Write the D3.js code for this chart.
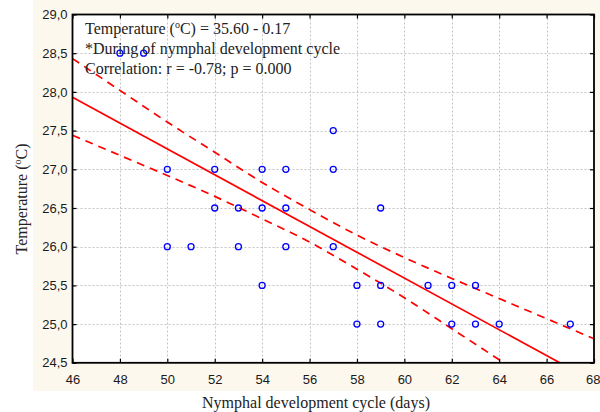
<!DOCTYPE html>
<html>
<head>
<meta charset="utf-8">
<script src="https://cdn.jsdelivr.net/npm/d3@7"></script>
<style>
  html, body { margin: 0; padding: 0; background: #ffffff; }
  svg { display: block; }
</style>
</head>
<body>
<svg id="chart" width="600" height="412"></svg>
<script>
// ---- data ----
const cycleDays = [48, 49, 50, 50, 51, 52, 52, 53, 53, 54, 54, 54, 55, 55, 55, 57, 57, 57, 58, 58, 59, 59, 59, 61, 62, 62, 63, 63, 64, 67];
const temperature = [28.5, 28.5, 27.0, 26.0, 26.0, 27.0, 26.5, 26.5, 26.0, 27.0, 26.5, 25.5, 27.0, 26.5, 26.0, 27.5, 27.0, 26.0, 25.5, 25.0, 26.5, 25.5, 25.0, 25.5, 25.5, 25.0, 25.5, 25.0, 25.0, 25.0];

// fitted line, read at the plot edges
const fitX = [46, 68];
const fitY = [27.93, 24.26];

// 95% confidence band
const bandX = [46, 48, 50, 52, 54, 56, 58, 60, 62, 64, 66, 68];
const bandUpper = [28.43, 28.02, 27.61, 27.22, 26.83, 26.48, 26.15, 25.86, 25.59, 25.33, 25.07, 24.81];
const bandLower = [27.44, 27.18, 26.92, 26.65, 26.36, 26.06, 25.71, 25.34, 24.94, 24.54, 24.13, 23.71];

const xTicks = [46, 48, 50, 52, 54, 56, 58, 60, 62, 64, 66, 68];
const yTicks = [24.5, 25.0, 25.5, 26.0, 26.5, 27.0, 27.5, 28.0, 28.5, 29.0];
const yTickLabels = ["24,5", "25,0", "25,5", "26,0", "26,5", "27,0", "27,5", "28,0", "28,5", "29,0"];

const xTitle = "Nymphal development cycle (days)";
const noteLines = ["= 35.60 - 0.17", "*During of nymphal development cycle", "Correlation: r = -0.78; p = 0.000"];

// ---- drawing ----
const svg = d3.select("#chart");
const L = 72.5, R = 594, T = 14.5, B = 362.8;
const x = d3.scaleLinear().domain([46, 68]).range([L, R]);
const y = d3.scaleLinear().domain([24.5, 29]).range([B, T]);

// cream panel
svg.append("rect").attr("x", 33).attr("y", 0).attr("width", 567).attr("height", 391).attr("fill", "#fdf8ee");
// plot area
svg.append("rect").attr("x", L).attr("y", T).attr("width", R - L).attr("height", B - T).attr("fill", "#ffffff");

svg.append("clipPath").attr("id", "plotclip")
  .append("rect").attr("x", L).attr("y", T).attr("width", R - L).attr("height", B - T);

// grid
const grid = svg.append("g").attr("stroke", "#c4c4c4").attr("stroke-width", 1).attr("stroke-dasharray", "2,2");
grid.selectAll("line.v").data(xTicks.slice(1, -1)).join("line")
  .attr("x1", d => Math.round(x(d)) + 0.5).attr("x2", d => Math.round(x(d)) + 0.5)
  .attr("y1", T).attr("y2", B);
grid.selectAll("line.h").data(yTicks.slice(1, -1)).join("line")
  .attr("y1", d => Math.round(y(d)) + 0.5).attr("y2", d => Math.round(y(d)) + 0.5)
  .attr("x1", L).attr("x2", R);

// lines
const lineG = svg.append("g").attr("clip-path", "url(#plotclip)").attr("fill", "none").attr("stroke", "#ff0000");
const fitLine = d3.line().x(d => x(d[0])).y(d => y(d[1]));
lineG.append("path").datum(fitX.map((d, i) => [d, fitY[i]]))
  .attr("d", fitLine).attr("stroke-width", 1.7);
const bandLine = d3.line().x(d => x(d[0])).y(d => y(d[1])).curve(d3.curveMonotoneX);
lineG.append("path").datum(bandX.map((d, i) => [d, bandUpper[i]]))
  .attr("d", bandLine).attr("stroke-width", 1.7).attr("stroke-dasharray", "8,6");
lineG.append("path").datum(bandX.map((d, i) => [d, bandLower[i]]))
  .attr("d", bandLine).attr("stroke-width", 1.7).attr("stroke-dasharray", "8,6");

// axes
const fontSans = "'Liberation Sans', Arial, sans-serif";
const fontSerif = "'Liberation Serif', 'Times New Roman', serif";

const xAxis = svg.append("g").attr("transform", `translate(0,${B})`)
  .call(d3.axisBottom(x).tickValues(xTicks).tickSize(-4).tickSizeOuter(0).tickPadding(12).tickFormat(d3.format("d")));
const yAxis = svg.append("g").attr("transform", `translate(${L},0)`)
  .call(d3.axisLeft(y).tickValues(yTicks).tickSize(-4).tickSizeOuter(0).tickPadding(5)
    .tickFormat((d, i) => yTickLabels[i]));
const xTop = svg.append("g").attr("transform", `translate(0,${T})`)
  .call(d3.axisTop(x).tickValues(xTicks).tickSize(-4).tickSizeOuter(0).tickFormat(""));
const yRight = svg.append("g").attr("transform", `translate(${R},0)`)
  .call(d3.axisRight(y).tickValues(yTicks).tickSize(-4).tickSizeOuter(0).tickFormat(""));

[xAxis, yAxis, xTop, yRight].forEach(g => {
  g.select(".domain").remove();
  g.selectAll(".tick line").attr("stroke", "#000").attr("stroke-width", 1.2);
  g.selectAll(".tick text").attr("fill", "#1a1a1a").style("font-family", fontSans).style("font-size", "13px");
});
// keep the last x label inside the page
xAxis.selectAll(".tick text").filter(d => d === 68).attr("text-anchor", "end").attr("x", 6);

// frame
svg.append("rect").attr("x", L).attr("y", T).attr("width", R - L).attr("height", B - T)
  .attr("fill", "none").attr("stroke", "#000").attr("stroke-width", 1.8);

// points
svg.append("g").selectAll("circle").data(cycleDays.map((d, i) => [d, temperature[i]])).join("circle")
  .attr("cx", d => x(d[0])).attr("cy", d => y(d[1])).attr("r", 3)
  .attr("fill", "none").attr("stroke", "#0000ff").attr("stroke-width", 1.3);

// annotation
const note = svg.append("g").style("font-family", fontSerif).style("font-size", "16px").attr("fill", "#222");
const t1 = note.append("text").attr("x", 85).attr("y", 34);
t1.append("tspan").text("Temperature (");
t1.append("tspan").attr("dy", -6).style("font-size", "10px").text("o");
t1.append("tspan").attr("dy", 6).text("C) " + noteLines[0]);
note.append("text").attr("x", 85).attr("y", 54).text(noteLines[1]);
note.append("text").attr("x", 85).attr("y", 73.5).text(noteLines[2]);

// axis titles
svg.append("text").attr("x", 316).attr("y", 408).attr("text-anchor", "middle")
  .style("font-family", fontSerif).style("font-size", "16px").attr("fill", "#222").text(xTitle);
const yt = svg.append("text").attr("transform", "translate(27,199) rotate(-90)").attr("text-anchor", "middle")
  .style("font-family", fontSerif).style("font-size", "16px").attr("fill", "#222");
yt.append("tspan").text("Temperature (");
yt.append("tspan").attr("dy", -6).style("font-size", "10px").text("o");
yt.append("tspan").attr("dy", 6).text("C)");
</script>
</body>
</html>
